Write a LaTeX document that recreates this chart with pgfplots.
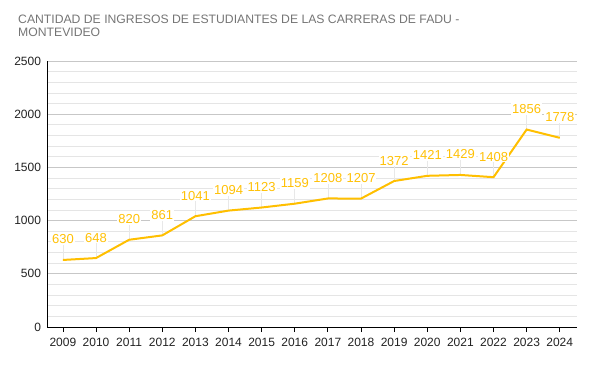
\documentclass[border=0pt]{standalone}
\usepackage{pgfplots}
\pgfplotsset{compat=1.18}
\usepackage{fontspec}
\setmainfont{Liberation Sans}
\definecolor{amber}{HTML}{FFBF00}
\definecolor{lbl}{HTML}{FFC107}
\definecolor{ttl}{HTML}{757575}
\definecolor{tck}{HTML}{222222}
\begin{document}
\begin{tikzpicture}
\useasboundingbox (0pt,0pt) rectangle (593pt,364pt);
\node[anchor=north west, align=left, text=ttl, font=\fontsize{12.2}{12.5}\selectfont, inner sep=0pt] at (18pt,349pt) {CANTIDAD DE INGRESOS DE ESTUDIANTES DE LAS CARRERAS DE FADU -\\MONTEVIDEO};
\begin{axis}[
  at={(47pt,37pt)}, anchor=south west,
  scale only axis, width=530pt, height=266pt,
  xmin=2008.52, xmax=2024.52, ymin=0, ymax=2500,
  axis lines*=left,
  axis line style={black, line width=0.9pt},
  xtick={2009,...,2024},
  ytick={0,500,...,2500},
  minor ytick={100,200,300,400,600,700,800,900,1100,1200,1300,1400,1600,1700,1800,1900,2100,2200,2300,2400},
  ymajorgrids, yminorgrids,
  major grid style={draw=black!22, line width=0.8pt},
  minor grid style={draw=black!10, line width=0.8pt},
  major tick length=5pt, minor tick length=0pt,
  xtick style={black, line width=0.8pt},
  ytick style={draw=none},
  tick align=outside,
  /pgf/number format/assume math mode=true,
  /pgf/number format/1000 sep={},
  tick label style={text=tck, font=\fontsize{12}{12}\selectfont},
  xticklabel style={yshift=-3pt},
  yticklabel style={xshift=2.5pt},
  clip=false,
]
\addplot[draw=none, forget plot, error bars/.cd, y dir=plus, y fixed=150,
  error bar style={draw=black!9, line width=0.8pt}, error mark=none]
  coordinates {(2009,630)(2010,648)(2011,820)(2012,861)(2013,1041)(2014,1094)(2015,1123)(2016,1159)(2017,1208)(2018,1207)(2019,1372)(2020,1421)(2021,1429)(2022,1408)(2023,1856)(2024,1778)};
\addplot[amber, line width=2pt, mark=none,
  nodes near coords,
  every node near coord/.append style={anchor=base, yshift=16pt, text=lbl, fill=white, inner sep=1pt, font=\fontsize{13}{13}\selectfont},
  point meta=explicit symbolic]
  coordinates {(2009,630)[630](2010,648)[648](2011,820)[820](2012,861)[861](2013,1041)[1041](2014,1094)[1094](2015,1123)[1123](2016,1159)[1159](2017,1208)[1208](2018,1207)[1207](2019,1372)[1372](2020,1421)[1421](2021,1429)[1429](2022,1408)[1408](2023,1856)[1856](2024,1778)[1778]};
\end{axis}
\end{tikzpicture}
\end{document}
